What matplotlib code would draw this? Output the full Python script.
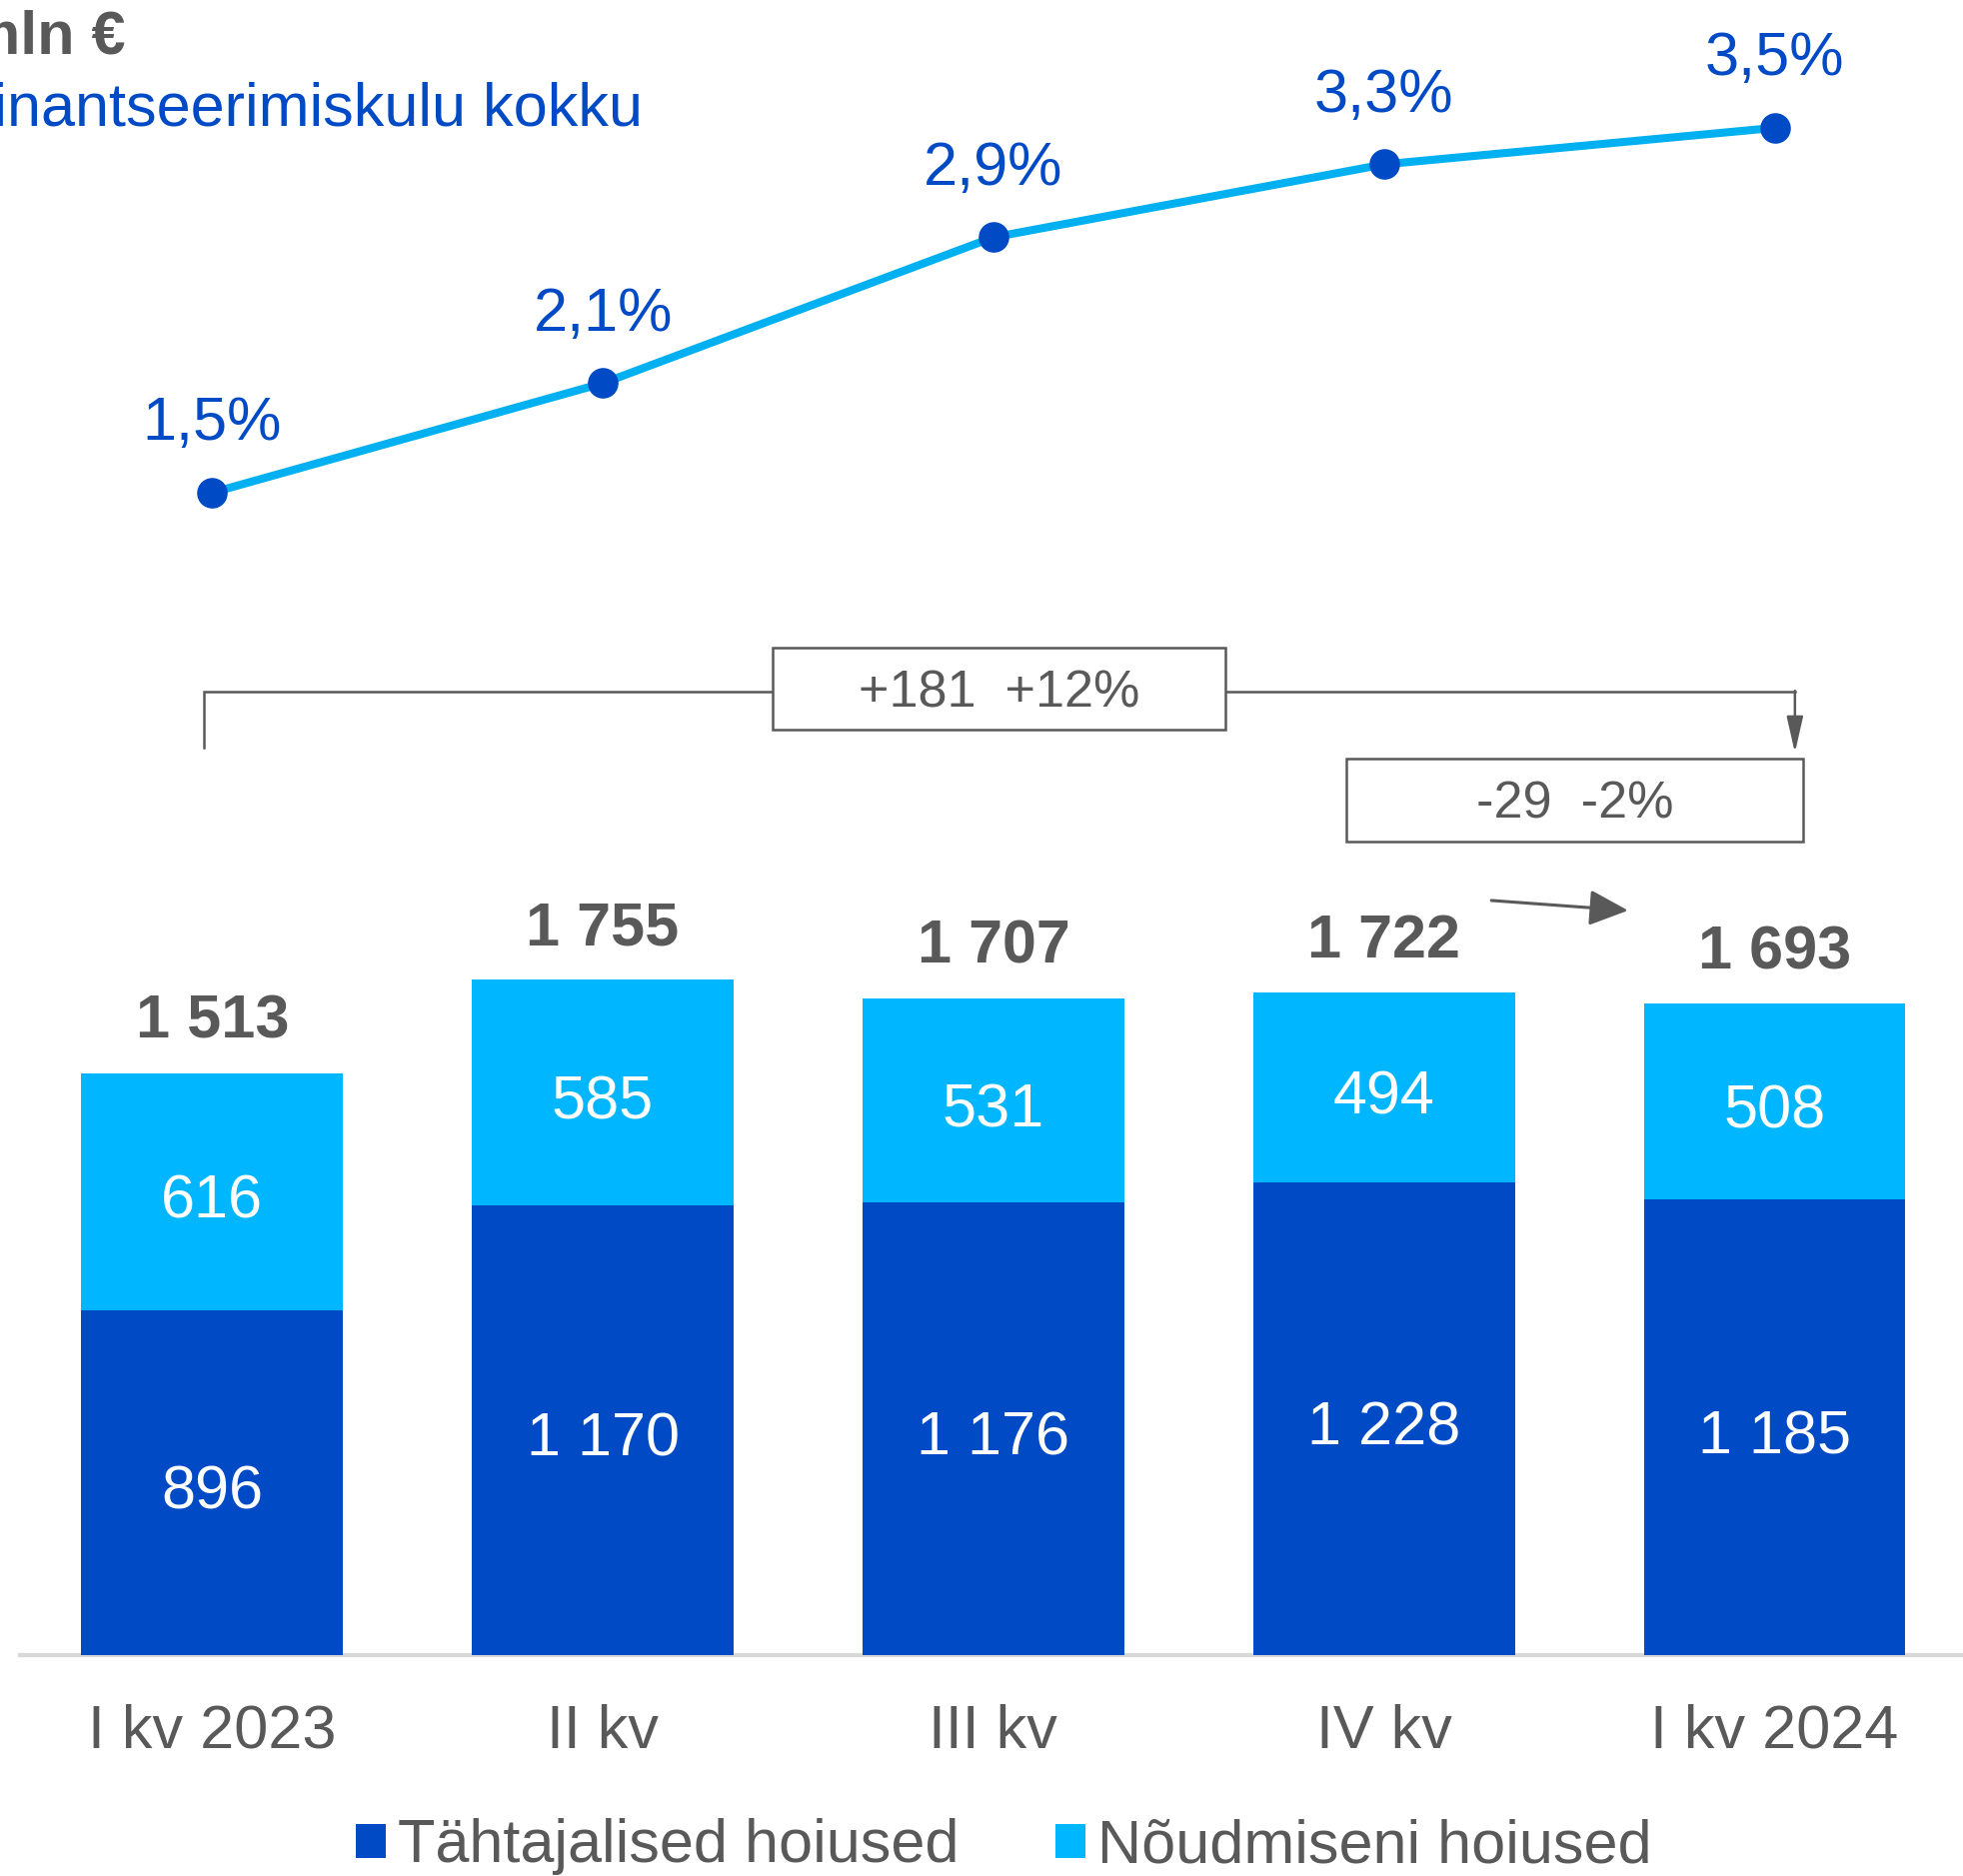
import matplotlib
matplotlib.use("Agg")
import matplotlib.pyplot as plt
from matplotlib.patches import Rectangle, FancyArrowPatch

plt.rcParams['font.family'] = ['Liberation Sans', 'DejaVu Sans']

# ---- data ----
categories = ["I kv 2023", "II kv", "III kv", "IV kv", "I kv 2024"]
tahtajalised = [896, 1170, 1176, 1228, 1185]
noudmiseni = [616, 585, 531, 494, 508]
totals = [1513, 1755, 1707, 1722, 1693]
total_labels = ["1 513", "1 755", "1 707", "1 722", "1 693"]
tahta_labels = ["896", "1 170", "1 176", "1 228", "1 185"]
noud_labels = ["616", "585", "531", "494", "508"]
fin_cost = [1.5, 2.1, 2.9, 3.3, 3.5]
fin_labels = ["1,5%", "2,1%", "2,9%", "3,3%", "3,5%"]
legend_labels = ["Tähtajalised hoiused", "Nõudmiseni hoiused"]
change_year = "+181  +12%"
change_q = "-29  -2%"

DARK = '#004AC6'
LIGHT = '#00B6FF'
LINE = '#00B0F0'
GRAY = '#595959'

W, H = 1964, 1877
fig = plt.figure(figsize=(W / 100, H / 100), dpi=100)
ax = fig.add_axes([0, 0, 1, 1])
ax.set_xlim(-0.5432, 4.4823)
ax.set_ylim(-574, 4301)
ax.axis('off')

x = list(range(len(categories)))
bw = 0.67
b1 = ax.bar(x, tahtajalised, width=bw, color=DARK, zorder=3, label=legend_labels[0])
b2 = ax.bar(x, noudmiseni, width=bw, bottom=tahtajalised, color=LIGHT, zorder=3,
            label=legend_labels[1])

# baseline
ax.plot([-0.5432 + 17.5 / 390.8, 4.4823], [0, 0], color='#D9D9D9', lw=3, zorder=2,
        solid_capstyle='butt')

FS = 44
for i in x:
    ax.text(i, totals[i] + 91, total_labels[i], ha='center', va='baseline',
            fontsize=FS, fontweight='bold', color=GRAY, zorder=5)
    ax.text(i, tahtajalised[i] / 2 - 68, tahta_labels[i], ha='center', va='baseline',
            fontsize=FS, color='white', zorder=5)
    ax.text(i, tahtajalised[i] + noudmiseni[i] / 2 - 68, noud_labels[i], ha='center',
            va='baseline', fontsize=FS, color='white', zorder=5)
    ax.text(i, -241, categories[i], ha='center', va='baseline', fontsize=FS, color=GRAY)

# ---- line (percent) ----
ax2 = fig.add_axes([0, 0, 1, 1], sharex=ax)
ax2.set_ylim(-6.084, 4.201)
ax2.axis('off')
ax2.patch.set_visible(False)
ax2.plot(x, fin_cost, color=LINE, lw=5.8, zorder=3, solid_capstyle='round')
ax2.plot(x, fin_cost, 'o', color=DARK, markersize=21, zorder=4)
for i in x:
    ax2.text(i, fin_cost[i] + 0.29, fin_labels[i], ha='center', va='baseline',
             fontsize=FS, color=DARK)

# ---- bracket annotation ----
x0, x1 = -0.021, 4.052
yb_top, yb_bot = 2504, 2345
box1 = (1.435, 2.594, 2405, 2618)
ax.plot([x0, x0, box1[0]], [yb_bot + 13, yb_top, yb_top], color=GRAY, lw=1.8,
        solid_joinstyle='miter')
ax.plot([box1[1], x1], [yb_top, yb_top], color=GRAY, lw=1.8)
ax.add_patch(FancyArrowPatch((x1, yb_top + 2), (x1, yb_bot),
                             arrowstyle='-|>,head_length=1.1,head_width=0.25',
                             mutation_scale=20, color=GRAY, lw=1.8,
                             shrinkA=0, shrinkB=0))
ax.add_patch(Rectangle((box1[0], box1[2]), box1[1] - box1[0], box1[3] - box1[2],
                       facecolor='white', edgecolor=GRAY, lw=1.8, zorder=4))
ax.text((box1[0] + box1[1]) / 2, (box1[2] + box1[3]) / 2 - 47, change_year,
        ha='center', va='baseline', fontsize=37.5, color=GRAY, zorder=5)

box2 = (2.904, 4.073, 2114, 2330)
ax.add_patch(Rectangle((box2[0], box2[2]), box2[1] - box2[0], box2[3] - box2[2],
                       facecolor='white', edgecolor=GRAY, lw=1.8, zorder=4))
ax.text((box2[0] + box2[1]) / 2, (box2[2] + box2[3]) / 2 - 47, change_q,
        ha='center', va='baseline', fontsize=37.5, color=GRAY, zorder=5)

ax.add_patch(FancyArrowPatch((3.275, 1961), (3.625, 1935),
                             arrowstyle='-|>,head_length=1.2,head_width=0.55',
                             mutation_scale=20, color=GRAY, lw=2.2,
                             shrinkA=0, shrinkB=0))

# ---- titles ----
fig.text(125 / W, 1 - 53 / H, "mln €", ha='right', va='baseline', fontsize=FS,
         fontweight='bold', color=GRAY)
fig.text(643 / W, 1 - 126 / H, "Finantseerimiskulu kokku", ha='right', va='baseline',
         fontsize=FS, color=DARK)

# ---- legend ----
fs_px = FS * 100 / 72
leg = ax.legend(handles=[b1, b2], labels=legend_labels, loc='center left',
                bbox_to_anchor=(356 / W, 1 - 1848 / H), bbox_transform=fig.transFigure,
                ncol=2, frameon=False, fontsize=FS, handlelength=30 / fs_px,
                handleheight=30 / fs_px, handletextpad=12 / fs_px,
                columnspacing=96 / fs_px, borderpad=0, borderaxespad=0)
for t in leg.get_texts():
    t.set_color(GRAY)

fig.savefig("out.png", dpi=100)
